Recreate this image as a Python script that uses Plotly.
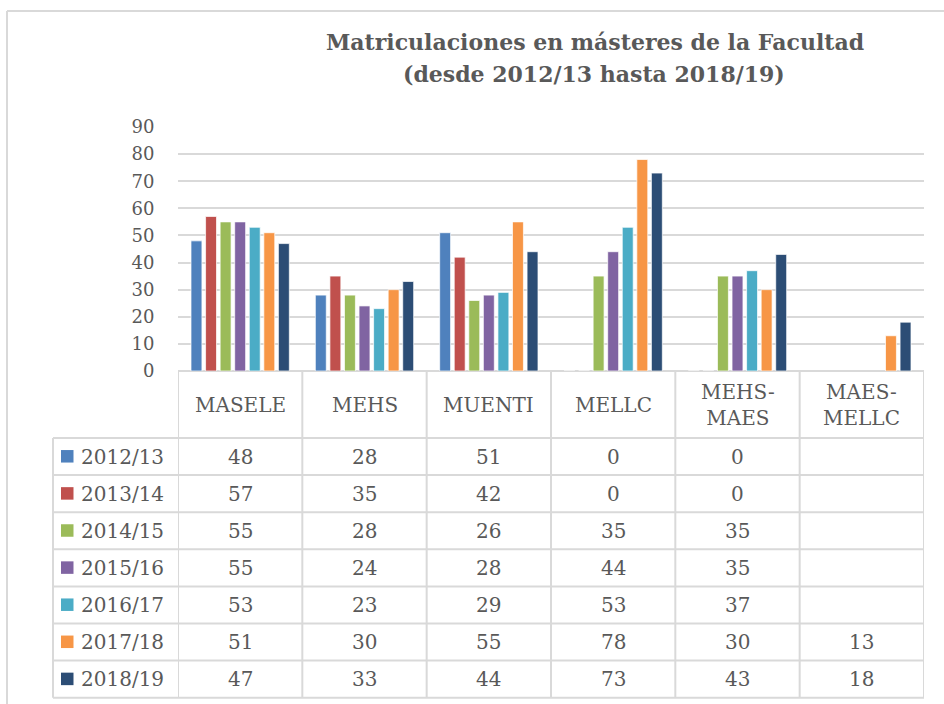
import plotly.graph_objects as go

categories = ["MASELE", "MEHS", "MUENTI", "MELLC", "MEHS-MAES", "MAES-MELLC"]
category_labels = ["MASELE", "MEHS", "MUENTI", "MELLC", "MEHS-<br>MAES", "MAES-<br>MELLC"]
seasons = ["2012/13", "2013/14", "2014/15", "2015/16", "2016/17", "2017/18", "2018/19"]
v_2012_13 = [48, 28, 51, 0, 0, None]
v_2013_14 = [57, 35, 42, 0, 0, None]
v_2014_15 = [55, 28, 26, 35, 35, None]
v_2015_16 = [55, 24, 28, 44, 35, None]
v_2016_17 = [53, 23, 29, 53, 37, None]
v_2017_18 = [51, 30, 55, 78, 30, 13]
v_2018_19 = [47, 33, 44, 73, 43, 18]
series = [v_2012_13, v_2013_14, v_2014_15, v_2015_16, v_2016_17, v_2017_18, v_2018_19]
colors = ["#4F81BD", "#C0504D", "#9BBB59", "#8064A2", "#4BACC6", "#F79646", "#2C4D75"]
y_ticks = [0, 10, 20, 30, 40, 50, 60, 70, 80, 90]

W, H = 944, 704
def px(x):
    return x / W
def py(y):
    return 1 - y / H

TXT = "#595959"
GRID = "#D9D9D9"
FONT = "DejaVu Serif"

fig = go.Figure()
for name, vals, col in zip(seasons, series, colors):
    fig.add_trace(go.Bar(
        x=categories, y=vals, name=name,
        marker=dict(color=col, line=dict(color="rgba(255,255,255,0.7)", width=1)),
        showlegend=False,
    ))

plot_top, plot_bot = 127, 371
x_left, x_right = 178, 924
header_bot = 438
row_h = 37.1
n_rows = len(seasons)
table_bot = header_bot + row_h * n_rows
leg_left = 53

shapes = []
shapes.append(dict(type="line", xref="paper", yref="paper", x0=px(7), x1=px(7), y0=py(11), y1=py(H + 2),
                   line=dict(color=GRID, width=2), layer="below"))
shapes.append(dict(type="line", xref="paper", yref="paper", x0=px(7), x1=px(W + 2), y0=py(11), y1=py(11),
                   line=dict(color=GRID, width=2), layer="below"))
for k in range(n_rows + 1):
    yy = header_bot + row_h * k
    shapes.append(dict(type="line", xref="paper", yref="paper", x0=px(leg_left), x1=px(x_right),
                       y0=py(yy), y1=py(yy), line=dict(color=GRID, width=2), layer="below"))
for i in range(len(categories) + 1):
    shapes.append(dict(type="line", xref="x", yref="paper", x0=i - 0.5, x1=i - 0.5,
                       y0=py(plot_bot), y1=py(table_bot), line=dict(color=GRID, width=2), layer="below"))
shapes.append(dict(type="line", xref="paper", yref="paper", x0=px(leg_left), x1=px(leg_left),
                   y0=py(header_bot), y1=py(table_bot), line=dict(color=GRID, width=2), layer="below"))
for k, col in enumerate(colors):
    cy = header_bot + row_h * (k + 0.5)
    shapes.append(dict(type="rect", xref="paper", yref="paper", x0=px(61), x1=px(73.5),
                       y0=py(cy - 6.5), y1=py(cy + 6), fillcolor=col, line=dict(width=0), layer="below"))

annotations = []
annotations.append(dict(text="<b>Matriculaciones en másteres de la Facultad</b>", xref="paper", yref="paper",
                        x=px(595), y=py(42), xanchor="center", yanchor="middle", showarrow=False,
                        font=dict(family=FONT, size=22, color=TXT)))
annotations.append(dict(text="<b>(desde 2012/13 hasta 2018/19)</b>", xref="paper", yref="paper",
                        x=px(594), y=py(74), xanchor="center", yanchor="middle", showarrow=False,
                        font=dict(family=FONT, size=22, color=TXT)))
for cat, lab in zip(categories, category_labels):
    annotations.append(dict(text=lab, xref="x", yref="paper", x=cat, y=py(405), xanchor="center",
                            yanchor="middle", showarrow=False, font=dict(family=FONT, size=20, color=TXT)))
for k, (name, vals) in enumerate(zip(seasons, series)):
    cy = header_bot + row_h * (k + 0.5)
    annotations.append(dict(text=name, xref="paper", yref="paper", x=px(79), y=py(cy), xanchor="left",
                            yanchor="middle", showarrow=False, font=dict(family=FONT, size=20, color=TXT)))
    for cat, v in zip(categories, vals):
        if v is None:
            continue
        annotations.append(dict(text=str(v), xref="x", yref="paper", x=cat, y=py(cy), xanchor="center",
                                yanchor="middle", showarrow=False, font=dict(family=FONT, size=20, color=TXT)))

fig.update_layout(
    template="none",
    width=W, height=H,
    margin=dict(l=0, r=0, t=0, b=0, pad=0, autoexpand=False),
    paper_bgcolor="white", plot_bgcolor="rgba(0,0,0,0)",
    barmode="group", bargap=0.18, bargroupgap=0.25,
    showlegend=False,
    xaxis=dict(domain=[px(x_left), px(x_right)], type="category", categoryorder="array",
               categoryarray=categories, range=[-0.5, len(categories) - 0.5], automargin=False,
               showticklabels=False, showgrid=False, showline=False, ticks="", fixedrange=True),
    yaxis=dict(domain=[py(plot_bot), py(plot_top)], range=[0, 90], tickvals=y_ticks, automargin=False,
               showgrid=True, gridcolor=GRID, gridwidth=2, zeroline=True, zerolinecolor=GRID,
               zerolinewidth=2, showline=False, ticks="outside", ticklen=19, tickcolor="rgba(0,0,0,0)",
               tickfont=dict(family=FONT, size=18, color=TXT), fixedrange=True),
    shapes=shapes, annotations=annotations,
)

fig.write_html("out.html", config={"displayModeBar": False, "responsive": False},
               post_script="document.body.style.margin='0';document.body.style.padding='0';")
